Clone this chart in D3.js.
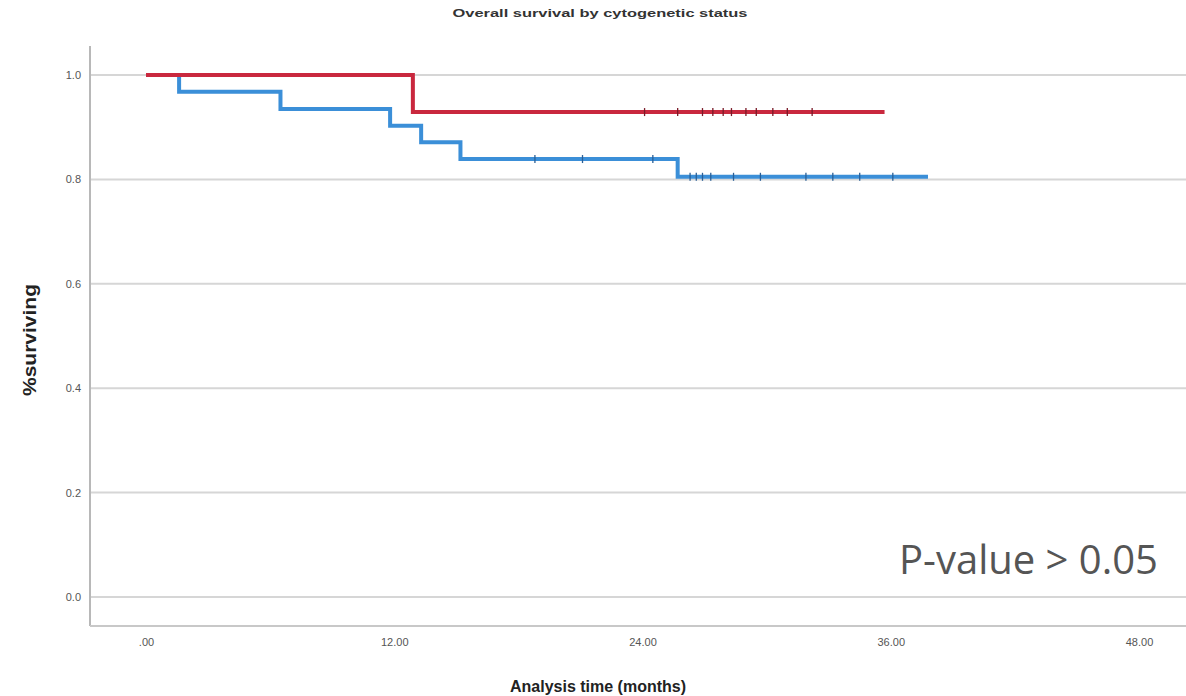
<!DOCTYPE html>
<html>
<head>
<meta charset="utf-8">
<script src="https://cdn.jsdelivr.net/npm/d3@7"></script>
<style>
  html, body { margin: 0; padding: 0; background: #fff; }
  svg { display: block; }
</style>
</head>
<body>
<svg id="chart" width="1186" height="696"></svg>
<script>
// Kaplan–Meier estimates, overall survival by cytogenetic status
const chartTitle = "Overall survival by cytogenetic status";
const xTickValues = [0, 12, 24, 36, 48];
const xTickLabels = [".00", "12.00", "24.00", "36.00", "48.00"];
const yTickValues = [0, 0.2, 0.4, 0.6, 0.8, 1.0];
const yTickLabels = ["0.0", "0.2", "0.4", "0.6", "0.8", "1.0"];

// Red group: step times (months) and survival after each step
const redTimes = [0, 12.9, 35.7];
const redSurv = [1.0, 0.929, 0.929];
const redCensored = [24.1, 25.7, 26.9, 27.4, 27.9, 28.3, 29.0, 29.5, 30.3, 31.0, 32.2];

// Blue group
const blueTimes = [0, 1.6, 6.5, 11.8, 13.3, 15.2, 25.7, 37.8];
const blueSurv = [1.0, 0.968, 0.935, 0.903, 0.871, 0.839, 0.805, 0.805];
const blueCensored = [18.8, 21.1, 24.5, 26.3, 26.6, 26.9, 27.3, 28.4, 29.7, 31.9, 33.2, 34.5, 36.1];

const svg = d3.select("#chart");
const W = 1186, H = 696;

const x = d3.scaleLinear().domain([0, 48]).range([146, 1139]);
const y = d3.scaleLinear().domain([0, 1]).range([597, 75]);

const axisLeft = 90, axisTop = 46, axisBottom = 626;

// title
svg.append("text")
  .attr("x", 600).attr("y", 17)
  .attr("text-anchor", "middle")
  .attr("font-family", "Liberation Sans, Arial, sans-serif")
  .attr("font-size", 10.5).attr("font-weight", "bold")
  .attr("fill", "#333")
  .attr("textLength", 295).attr("lengthAdjust", "spacingAndGlyphs")
  .text(chartTitle);

// horizontal grid lines
svg.append("g")
  .selectAll("line")
  .data(yTickValues)
  .join("line")
  .attr("x1", axisLeft).attr("x2", W)
  .attr("y1", d => y(d)).attr("y2", d => y(d))
  .attr("stroke", "#d6d6d6").attr("stroke-width", 2);

// frame: left and bottom axis lines
svg.append("line")
  .attr("x1", axisLeft).attr("x2", axisLeft)
  .attr("y1", axisTop).attr("y2", axisBottom)
  .attr("stroke", "#b8b8b8").attr("stroke-width", 2);
svg.append("line")
  .attr("x1", axisLeft).attr("x2", W)
  .attr("y1", axisBottom).attr("y2", axisBottom)
  .attr("stroke", "#c8c8c8").attr("stroke-width", 2);

// y axis tick labels
const yAxis = d3.axisLeft(y)
  .tickValues(yTickValues)
  .tickSize(0)
  .tickPadding(0)
  .tickFormat((d, i) => yTickLabels[i]);
const gy = svg.append("g").attr("transform", `translate(${axisLeft - 9},0)`).call(yAxis);
gy.select(".domain").remove();
gy.selectAll("text")
  .attr("font-family", "Liberation Sans Narrow, Liberation Sans, Arial, sans-serif")
  .attr("font-size", 11).attr("fill", "#555");

// x axis tick labels
const xAxis = d3.axisBottom(x)
  .tickValues(xTickValues)
  .tickSize(0)
  .tickPadding(0)
  .tickFormat((d, i) => xTickLabels[i]);
const gx = svg.append("g").attr("transform", `translate(0,${axisBottom + 12})`).call(xAxis);
gx.select(".domain").remove();
gx.selectAll("text")
  .attr("font-family", "Liberation Sans Narrow, Liberation Sans, Arial, sans-serif")
  .attr("font-size", 11).attr("fill", "#555");

// axis titles
svg.append("text")
  .attr("x", 598).attr("y", 692)
  .attr("text-anchor", "middle")
  .attr("font-family", "Liberation Sans, Arial, sans-serif")
  .attr("font-size", 16).attr("font-weight", "bold")
  .attr("fill", "#222")
  .text("Analysis time (months)");

svg.append("text")
  .attr("transform", "translate(36,340) rotate(-90)")
  .attr("text-anchor", "middle")
  .attr("font-family", "Liberation Sans, Arial, sans-serif")
  .attr("font-size", 18).attr("font-weight", "bold")
  .attr("fill", "#222")
  .attr("textLength", 112).attr("lengthAdjust", "spacingAndGlyphs")
  .text("%surviving");

// survival curves
const step = d3.line()
  .x(d => x(d[0]))
  .y(d => y(d[1]))
  .curve(d3.curveStepAfter);

function survAt(times, surv, t) {
  let s = surv[0];
  for (let i = 0; i < times.length; i++) if (times[i] <= t) s = surv[i];
  return s;
}

function drawGroup(times, surv, censored, color, tickColor) {
  const pts = times.map((t, i) => [t, surv[i]]);
  svg.append("path")
    .attr("d", step(pts))
    .attr("fill", "none")
    .attr("stroke", color)
    .attr("stroke-width", 4)
    .attr("stroke-linejoin", "miter");
  svg.append("g")
    .selectAll("line")
    .data(censored)
    .join("line")
    .attr("x1", d => x(d)).attr("x2", d => x(d))
    .attr("y1", d => y(survAt(times, surv, d)) - 4)
    .attr("y2", d => y(survAt(times, surv, d)) + 4)
    .attr("stroke", tickColor).attr("stroke-width", 1.3);
}

drawGroup(blueTimes, blueSurv, blueCensored, "#3b8fd8", "#2a5f96");
drawGroup(redTimes, redSurv, redCensored, "#c9283e", "#7a1a28");

// test annotation
svg.append("text")
  .attr("x", 1158).attr("y", 574)
  .attr("text-anchor", "end")
  .attr("font-family", "Open Sans, Noto Sans, sans-serif")
  .attr("font-size", 40)
  .attr("fill", "#555")
  .text("P-value > 0.05");
</script>
</body>
</html>
